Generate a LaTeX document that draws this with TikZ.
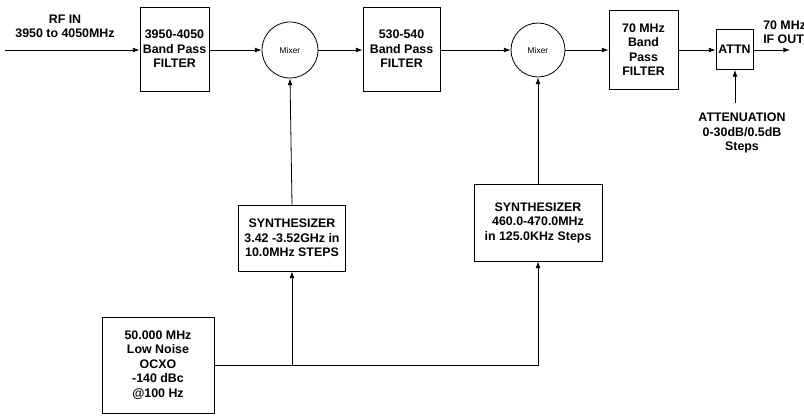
\documentclass[tikz,border=0pt]{standalone}
\usepackage{fontspec}
\setmainfont{Liberation Sans}
\usepackage{tikz}
\usetikzlibrary{arrows.meta,calc}

\begin{document}
\begin{tikzpicture}[x=0.75pt,y=-0.75pt,
  box/.style={draw, line width=0.6pt, align=center, inner sep=0pt, font=\fontsize{9.3}{10.9}\selectfont\bfseries},
  mixer/.style={draw, circle, line width=0.6pt, inner sep=0pt, font=\fontsize{6.3}{7}\selectfont},
  lbl/.style={align=center, inner sep=0pt, font=\fontsize{9.3}{10.9}\selectfont\bfseries},
  sig/.style={line width=0.6pt, -{Latex[length=5pt,width=3.6pt]}}]
\useasboundingbox (0,0) rectangle (804,417);

% signal chain
\node[lbl] (rfin) at (65,26.5) {RF IN\\3950 to 4050MHz};
\coordinate (in) at (5,50);
\node[box, minimum width=51.75pt, minimum height=63pt] (bpfa) at (174.5,49) {3950-4050\\Band Pass\\FILTER};
\node[mixer, minimum size=42pt] (mixa) at (290,50) {Mixer};
\node[box, minimum width=57.75pt, minimum height=63pt] (bpfb) at (401.5,49) {530-540\\Band Pass\\FILTER};
\node[mixer, minimum size=40.5pt] (mixb) at (538,50) {Mixer};
\node[box, minimum width=51.75pt, minimum height=59.25pt] (bpfc) at (643.5,49.5) {70 MHz\\Band\\Pass\\FILTER};
\node[box, minimum width=27.75pt, minimum height=30pt] (attn) at (734.5,49.5) {ATTN};
\coordinate (out) at (790,50);
\node[lbl, anchor=west, align=left] (ifout) at (763,32) {70 MHz\\IF OUT};
\node[lbl] (atten) at (742,133) {ATTENUATION\\0-30dB/0.5dB\\Steps};
\coordinate (attin) at (735,103);

% synthesizers and reference
\node[box, minimum width=80.25pt, minimum height=49.5pt] (syna) at (292,238) {SYNTHESIZER\\3.42 -3.52GHz in\\10.0MHz STEPS};
\node[box, minimum width=96pt, minimum height=57.75pt] (synb) at (538,222.5) {SYNTHESIZER\\460.0-470.0MHz\\in 125.0KHz Steps};
\node[box, minimum width=84pt, minimum height=72pt] (ocxo) at (158,365) {50.000 MHz\\Low Noise\\OCXO\\-140 dBc\\@100 Hz};
\coordinate (tap) at (292,365);
\coordinate (corner) at (538,365);

\draw[sig] (in) -- (in -| bpfa.west);
\draw[sig] (bpfa.east |- mixa) -- (mixa.west);
\draw[sig] (mixa.east) -- (mixa -| bpfb.west);
\draw[sig] (bpfb.east |- mixb) -- (mixb.west);
\draw[sig] (mixb.east) -- (mixb -| bpfc.west);
\draw[sig] (bpfc.east |- mixb) -- (mixb -| attn.west);
\draw[sig] (mixb -| attn.east) -- (out);
\draw[sig] (attin) -- (attin |- attn.south);
\draw[sig] (syna.north) -- (mixa.south);
\draw[sig] (synb.north) -- (mixb.south);
\draw[sig] (ocxo.east) -- (corner) -- (synb.south);
\draw[sig] (tap) -- (syna.south);
\end{tikzpicture}
\end{document}
